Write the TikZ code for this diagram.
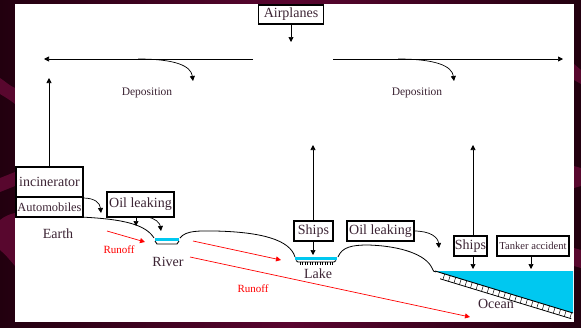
\documentclass[tikz,border=0pt]{standalone}
\usepackage{fontspec}
\setmainfont{Liberation Serif}
\usetikzlibrary{arrows.meta,calc}
\definecolor{bgdark}{HTML}{22000F}
\definecolor{bgmid}{HTML}{5A0530}
\definecolor{band}{HTML}{58072E}
\definecolor{txt}{HTML}{3C2434}
\definecolor{water}{HTML}{00C8F0}
\definecolor{runred}{HTML}{FF0000}
\begin{document}
\begin{tikzpicture}[x=1pt,y=-1pt,
  box/.style={draw=black,line width=1.6pt,inner sep=0pt,text=txt,font=\fontsize{14}{14}\selectfont},
  lbl/.style={inner sep=0pt,text=txt,font=\fontsize{14}{14}\selectfont},
  dep/.style={inner sep=0pt,text=txt,font=\fontsize{11.5}{11.5}\selectfont},
  run/.style={inner sep=0pt,text=runred,font=\fontsize{11}{11}\selectfont},
  arr/.style={-{Triangle[length=5pt,width=5pt]},line width=0.7pt},
  rarr/.style={-{Triangle[length=5pt,width=5pt]},line width=0.7pt,draw=runred},
  ground/.style={line width=0.8pt}]
\useasboundingbox (0,0) rectangle (581,327);
% background
\shade[left color=bgdark,right color=bgdark,middle color=bgmid] (0,0) rectangle (581,327);
\fill[band] (0,78) .. controls (6,82) and (10,86) .. (15,88) -- (15,104) .. controls (10,100) and (5,97) .. (0,94) -- cycle;
\fill[band] (0,178) -- (15,172) -- (15,186) -- (0,192) -- cycle;
\fill[band] (0,220) .. controls (5,216) and (10,214) .. (15,213) -- (15,266) .. controls (10,260) and (5,254) .. (0,250) -- cycle;
\fill[band] (574,64) -- (581,70) -- (581,84) -- (574,80) -- cycle;
\fill[band] (574,166) -- (581,168) -- (581,186) -- (574,188) -- cycle;
\fill[band] (574,248) -- (581,250) -- (581,268) -- (574,266) -- cycle;
\fill[white] (15,4) rectangle (574,322);

% boxes
\node[box,minimum width=65pt,minimum height=19pt] (air) at (291,14.5) {Airplanes};
\node[box,minimum width=67pt,minimum height=30pt] (inc) at (49.5,182) {incinerator};
\node[box,minimum width=67pt,minimum height=20pt,font=\fontsize{12.4}{12.4}\selectfont] (auto) at (49.5,207) {Automobiles};
\node[box,minimum width=67pt,minimum height=25pt] (oil1) at (140.5,204.5) {Oil leaking};
\node[box,minimum width=39pt,minimum height=20pt] (ships1) at (313.5,231) {Ships};
\node[box,minimum width=67pt,minimum height=20pt] (oil2) at (380.5,231) {Oil leaking};
\node[box,minimum width=33pt,minimum height=20pt] (ships2) at (470.5,246) {Ships};
\node[box,minimum width=72pt,minimum height=20pt,font=\fontsize{10.6}{10.6}\selectfont] (tank) at (533,246) {Tanker accident};

% labels
\node[dep] (dep1) at (147,93) {Deposition};
\node[dep] (dep2) at (417,93) {Deposition};
\node[lbl] (earth) at (58,234) {Earth};
\node[lbl] (river) at (168,262) {River};
\node[lbl] (lake) at (318,274) {Lake};
\node[run] (run1) at (119,250) {Runoff};
\node[run] (run2) at (253,289) {Runoff};

% coordinates
\coordinate (airT) at (291,42);
\coordinate (hl0) at (253,59);
\coordinate (hl1) at (44,59);
\coordinate (hr0) at (333,59);
\coordinate (hr1) at (563,59);
\coordinate (d1s) at (138,59);
\coordinate (d1e) at (193,81);
\coordinate (d2s) at (398,59);
\coordinate (d2e) at (454,81);
\coordinate (incB) at (49,167);
\coordinate (incT) at (49,78);
\coordinate (s1T) at (313,145);
\coordinate (s1B) at (313,255);
\coordinate (s2T) at (473,145);
\coordinate (s2B) at (473,269);
\coordinate (tkB) at (531,269);
\coordinate (o1a) at (136,217);
\coordinate (o1aT) at (136,226);
\coordinate (o1b) at (147,217);
\coordinate (o1bT) at (161,231);
\coordinate (auS) at (83,198);
\coordinate (auT) at (101,213);
\coordinate (o2S) at (414,231);
\coordinate (o2T) at (439,248);

% arrows
\draw[arr] (air.south) -- (airT);
\draw[arr] (hl0) -- (hl1);
\draw[arr] (hr0) -- (hr1);
\draw[arr] (d1s) .. controls (176,59) and (191,66) .. (d1e);
\draw[arr] (d2s) .. controls (436,59) and (452,66) .. (d2e);
\draw[arr] (incB) -- (incT);
\draw[arr] (ships1.north -| s1T) -- (s1T);
\draw[arr] (ships1.south -| s1B) -- (s1B);
\draw[arr] (ships2.north -| s2T) -- (s2T);
\draw[arr] (ships2.south -| s2B) -- (s2B);
\draw[arr] (tank.south -| tkB) -- (tkB);
\draw[arr] (o1a) -- (o1aT);
\draw[arr] (o1b) .. controls (155,218) and (160,223) .. (o1bT);
\draw[arr] (auS) .. controls (95,198) and (100,203) .. (auT);
\draw[arr] (o2S) .. controls (430,231) and (438,237) .. (o2T);

% runoff
\coordinate (r1s) at (107,231); \coordinate (r1e) at (145,242);
\coordinate (r2s) at (193,241); \coordinate (r2e) at (281,260);
\coordinate (r3s) at (190,257); \coordinate (r3e) at (470,317);
\draw[rarr] (r1s) -- (r1e);
\draw[rarr] (r2s) -- (r2e);
\draw[rarr] (r3s) -- (r3e);

% ground
\draw[ground] (80,217) .. controls (125,219) and (146,225) .. (154,238);
\draw[ground] (180,238) .. controls (186,230) and (200,231) .. (215,231)
  .. controls (262,232) and (290,240) .. (295,257);
\draw[ground] (338,257) .. controls (342,247) and (352,245) .. (368,245)
  .. controls (402,246) and (426,255) .. (432,268) .. controls (433,271) and (434,272) .. (436,272);

% river
\draw[water,line width=3pt] (155,239) -- (179,239);
\draw[line width=0.9pt] (155,241) -- (157,244) -- (177,244) -- (179,241);

% lake
\draw[water,line width=3.5pt] (295,258.5) -- (337,258.5);
\draw[line width=0.9pt] (296,260.5) -- (298,262) -- (334,262) -- (336,260.5);
\foreach \x in {300,302.5,...,333} \draw[line width=0.5pt] (\x,262) -- (\x,264.5);

% ocean
\coordinate (oc1) at (435,271);
\coordinate (oc2) at (573,313);
\fill[water] (oc1) -- (573,271) -- (oc2) -- cycle;
\draw[line width=0.9pt] (oc1) -- (oc2);
\draw[line width=0.8pt] ($(oc1)!0.05!(oc2)+(-1.75,5.7)$) -- ($(oc2)+(-1.75,5.7)$);
\foreach \t in {0.07,0.11,...,0.99} \draw[line width=0.5pt] ($(oc1)!\t!(oc2)$) -- ++(-1.75,5.7);
\node[lbl] (ocean) at (496,304) {Ocean};
\end{tikzpicture}
\end{document}
